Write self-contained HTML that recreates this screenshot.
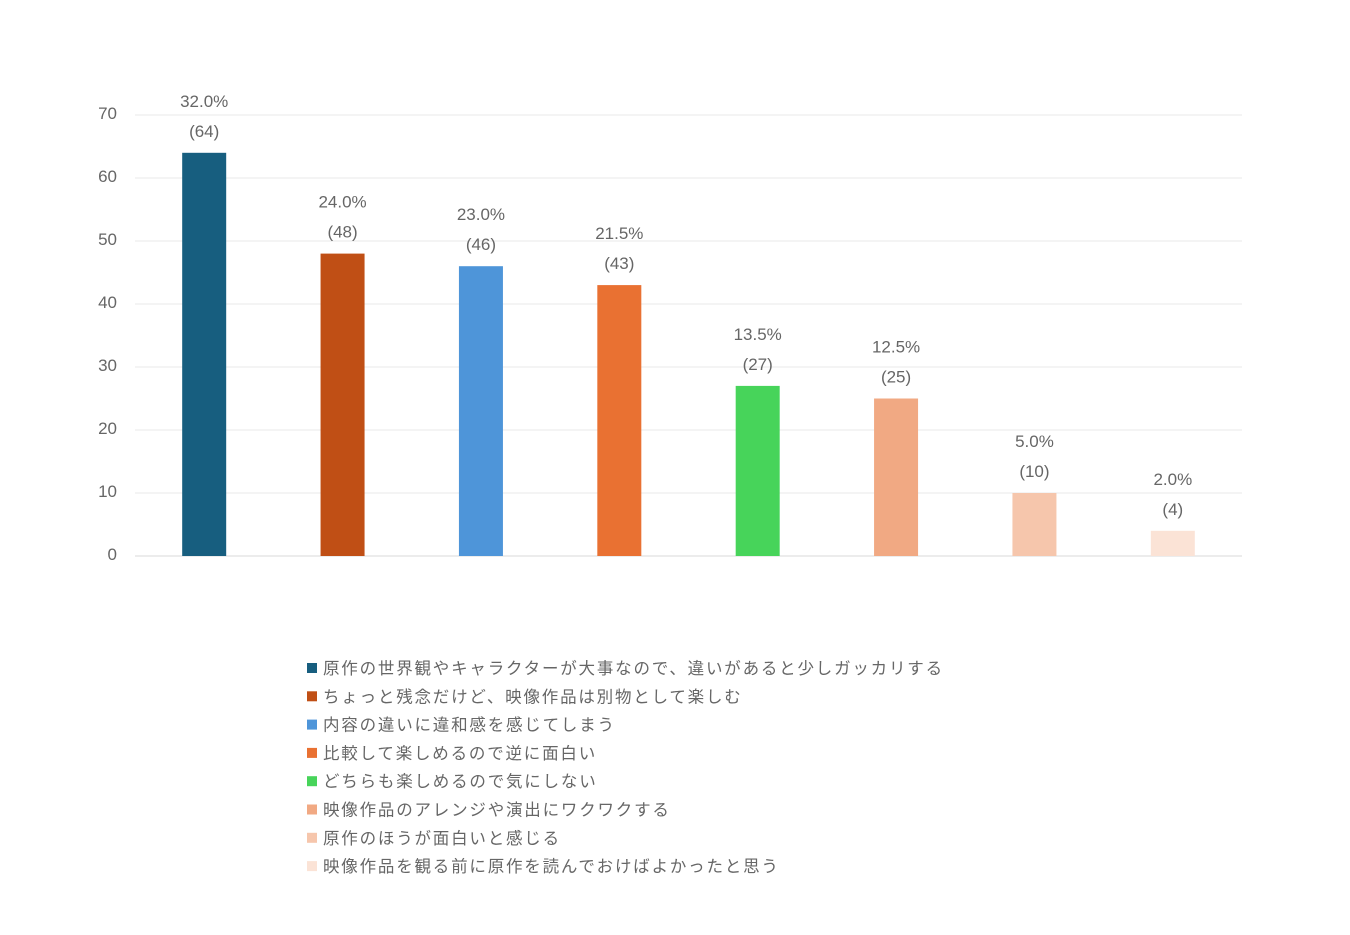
<!DOCTYPE html>
<html><head><meta charset="utf-8"><style>
body{margin:0;background:#fff;width:1350px;height:930px;overflow:hidden;font-family:"Liberation Sans","Noto Sans CJK JP",sans-serif;}
</style></head><body>
<svg id="chart" width="1350" height="930" xmlns="http://www.w3.org/2000/svg"></svg>
<script>
const categories=["原作の世界観やキャラクターが大事なので、違いがあると少しガッカリする","ちょっと残念だけど、映像作品は別物として楽しむ","内容の違いに違和感を感じてしまう","比較して楽しめるので逆に面白い","どちらも楽しめるので気にしない","映像作品のアレンジや演出にワクワクする","原作のほうが面白いと感じる","映像作品を観る前に原作を読んでおけばよかったと思う"];
const counts=[64,48,46,43,27,25,10,4];
const percents=["32.0%","24.0%","23.0%","21.5%","13.5%","12.5%","5.0%","2.0%"];
const yTicks=[0,10,20,30,40,50,60,70];
const colors=["#175e7f","#c04f15","#4e95d9","#e97132","#47d45a","#f1a983","#f6c6ac","#fbe3d6"];
const svg=document.getElementById('chart');
const NS="http://www.w3.org/2000/svg";
const x0=135,x1=1242,yB=556,yT=115,yMax=70;
const y=v=>yB-(yB-yT)*v/yMax;
const slot=(x1-x0)/categories.length;
const xc=i=>x0+slot*(i+0.5);
function mk(t,a){const e=document.createElementNS(NS,t);for(const k in a)e.setAttribute(k,a[k]);svg.appendChild(e);return e;}
yTicks.forEach(v=>{
 const l=mk('line',{x1:x0,x2:x1,y1:y(v),y2:y(v),stroke:v===0?'#d9d9d9':'#e8e8e8','stroke-width':1});
 
 
 const t=mk('text',{x:117,y:y(v)+4,'text-anchor':'end','font-size':17,fill:'#666'});t.textContent=v;
 
 
});
counts.forEach((c,i)=>{
 const r=mk('rect',{x:xc(i)-22,y:y(c),width:44,height:yB-y(c),fill:colors[i]});
 
 
 const p=mk('text',{x:xc(i),y:y(c)-46,'text-anchor':'middle','font-size':17,fill:'#666'});p.textContent=percents[i];
 
 
 const n=mk('text',{x:xc(i),y:y(c)-16,'text-anchor':'middle','font-size':17,fill:'#666'});n.textContent='('+c+')';
 
 
 const ly=668+i*28.3;
 const s=mk('rect',{x:307,y:ly-5,width:10,height:10,fill:colors[i]});
 
 
 const lt=mk('text',{x:323,y:ly+6,'font-size':16.5,fill:'#666','letter-spacing':'1.8'});lt.textContent=categories[i];
 
 
});
</script>
</body></html>
